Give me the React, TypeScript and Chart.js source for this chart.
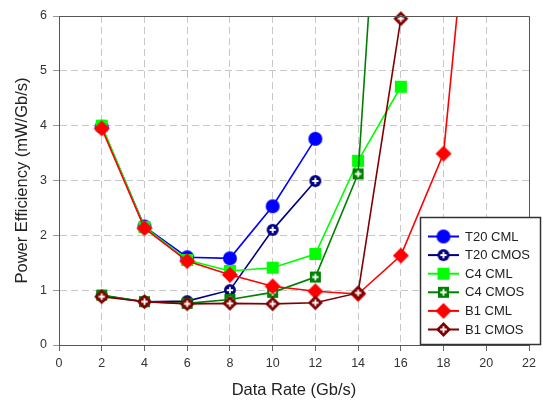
import React, { useEffect, useRef } from 'react';
import { Chart, registerables } from 'chart.js';

Chart.register(...registerables);

// ---- Data ----
const xT20 = [2, 4, 6, 8, 10, 12];
const t20Cml = [3.98, 2.16, 1.6, 1.58, 2.53, 3.76];
const t20Cmos = [0.9, 0.79, 0.8, 1.0, 2.1, 2.99];

const xC4 = [2, 4, 6, 8, 10, 12, 14, 16];
const c4Cml = [4.0, 2.15, 1.55, 1.35, 1.41, 1.66, 3.36, 4.71];
const c4Cmos = [0.91, 0.79, 0.76, 0.83, 0.96, 1.24, 3.12, 15];

const xB1Cml = [2, 4, 6, 8, 10, 12, 14, 16, 18, 20];
const b1Cml = [3.95, 2.13, 1.53, 1.28, 1.07, 0.98, 0.93, 1.63, 3.49, 11.5];
const xB1Cmos = [2, 4, 6, 8, 10, 12, 14, 16];
const b1Cmos = [0.88, 0.79, 0.75, 0.76, 0.75, 0.77, 0.95, 5.95];

const seriesNames = ['T20 CML', 'T20 CMOS', 'C4 CML', 'C4 CMOS', 'B1 CML', 'B1 CMOS'];
const seriesColors = ['#0000ff', '#000080', '#00ff00', '#008000', '#ff0000', '#800000'];

const xTitle = 'Data Rate (Gb/s)';
const yTitle = 'Power Efficiency (mW/Gb/s)';

const FONT = "'Liberation Sans', Arial, sans-serif";

type Shape = 'circle' | 'square' | 'diamond';

function makeMarker(shape: Shape, color: string, size: number, plus: boolean): HTMLCanvasElement {
  const c = document.createElement('canvas');
  const s = Math.ceil(size) + 2;
  c.width = s;
  c.height = s;
  const ctx = c.getContext('2d')!;
  const m = s / 2;
  const h = size / 2;
  ctx.fillStyle = color;
  ctx.beginPath();
  if (shape === 'circle') ctx.arc(m, m, h, 0, Math.PI * 2);
  else if (shape === 'square') ctx.rect(m - h, m - h, size, size);
  else {
    ctx.moveTo(m, m - h);
    ctx.lineTo(m + h, m);
    ctx.lineTo(m, m + h);
    ctx.lineTo(m - h, m);
    ctx.closePath();
  }
  ctx.fill();
  if (plus) {
    ctx.strokeStyle = '#ffffff';
    ctx.lineWidth = 1.8;
    ctx.beginPath();
    ctx.moveTo(m - 3.2, m);
    ctx.lineTo(m + 3.2, m);
    ctx.moveTo(m, m - 3.2);
    ctx.lineTo(m, m + 3.2);
    ctx.stroke();
  }
  return c;
}

const pts = (xs: number[], ys: number[]) => xs.map((x, i) => ({ x, y: ys[i] }));

export default function App() {
  const ref = useRef<HTMLCanvasElement>(null);

  useEffect(() => {
    const markers = [
      makeMarker('circle', seriesColors[0], 14, false),
      makeMarker('circle', seriesColors[1], 12, true),
      makeMarker('square', seriesColors[2], 12, false),
      makeMarker('square', seriesColors[3], 11, true),
      makeMarker('diamond', seriesColors[4], 16, false),
      makeMarker('diamond', seriesColors[5], 15, true),
    ];
    const dataSets = [
      pts(xT20, t20Cml),
      pts(xT20, t20Cmos),
      pts(xC4, c4Cml),
      pts(xC4, c4Cmos),
      pts(xB1Cml, b1Cml),
      pts(xB1Cmos, b1Cmos),
    ];

    const framePlugin = {
      id: 'frame',
      afterDraw(chart: any) {
        const { ctx, chartArea: a } = chart;
        ctx.save();
        ctx.strokeStyle = '#555';
        ctx.lineWidth = 1;
        ctx.beginPath();
        ctx.moveTo(a.left, Math.round(a.top) + 0.5);
        ctx.lineTo(Math.round(a.right) + 0.5, Math.round(a.top) + 0.5);
        ctx.lineTo(Math.round(a.right) + 0.5, a.bottom);
        ctx.stroke();

        // legend box
        const lx = 420.5, ly = 217.5, lw = 120, lh = 127;
        ctx.fillStyle = '#ffffff';
        ctx.fillRect(lx, ly, lw, lh);
        ctx.strokeStyle = '#333';
        ctx.lineWidth = 1.5;
        ctx.strokeRect(lx, ly, lw, lh);
        ctx.font = `13px ${FONT}`;
        ctx.textBaseline = 'middle';
        ctx.textAlign = 'left';
        seriesNames.forEach((name, i) => {
          const y = 236.5 + i * 18.6;
          ctx.strokeStyle = seriesColors[i];
          ctx.lineWidth = 2;
          ctx.beginPath();
          ctx.moveTo(428, y);
          ctx.lineTo(459, y);
          ctx.stroke();
          const mk = markers[i];
          ctx.drawImage(mk, 443.5 - mk.width / 2, y - mk.height / 2);
          ctx.fillStyle = '#222';
          ctx.fillText(name, 465, y + 0.5);
        });
        ctx.restore();
      },
    };

    const chart = new Chart(ref.current!, {
      type: 'line',
      data: {
        datasets: seriesNames.map((name, i) => ({
          label: name,
          data: dataSets[i],
          borderColor: seriesColors[i],
          backgroundColor: seriesColors[i],
          borderWidth: 1.6,
          pointStyle: markers[i] as any,
          pointRadius: 7,
          order: 6 - i,
          tension: 0,
          fill: false,
          clip: i === 5 ? { left: 0, right: 0, top: 10, bottom: 0 } : 0,
        })) as any,
      },
      options: {
        responsive: false,
        animation: false,
        devicePixelRatio: 1,
        layout: { padding: { top: 16, right: 14, left: 0, bottom: 0 } },
        plugins: { legend: { display: false }, tooltip: { enabled: false } },
        scales: {
          x: {
            type: 'linear',
            min: 0,
            max: 22,
            ticks: { stepSize: 2, color: '#333', font: { size: 12.5, family: FONT }, padding: 5, maxRotation: 0 },
            grid: { color: '#c8c8c8', lineWidth: 1, tickColor: '#666', tickLength: 6 },
            border: { color: '#555', width: 1, dash: [7, 4] },
            title: {
              display: true,
              text: xTitle,
              color: '#222',
              font: { size: 16.5, family: FONT },
              padding: { top: 0, bottom: 0 },
            },
            afterFit: (s: any) => {
              s.height = 55;
            },
          },
          y: {
            type: 'linear',
            min: 0,
            max: 6,
            ticks: { stepSize: 1, color: '#333', font: { size: 12.5, family: FONT }, padding: 6 },
            grid: { color: '#c8c8c8', lineWidth: 1, tickColor: '#999', tickLength: 6 },
            border: { color: '#555', width: 1, dash: [7, 4] },
            title: {
              display: true,
              text: yTitle,
              color: '#222',
              font: { size: 16.5, family: FONT },
              padding: { top: 13, bottom: 0 },
            },
            afterFit: (s: any) => {
              s.width = 59;
            },
          },
        },
      },
      plugins: [framePlugin],
    });
    return () => chart.destroy();
  }, []);

  return (
    <canvas
      ref={ref}
      width={543}
      height={400}
      style={{ position: 'absolute', left: 0, top: 0, width: 543, height: 400 }}
    />
  );
}
